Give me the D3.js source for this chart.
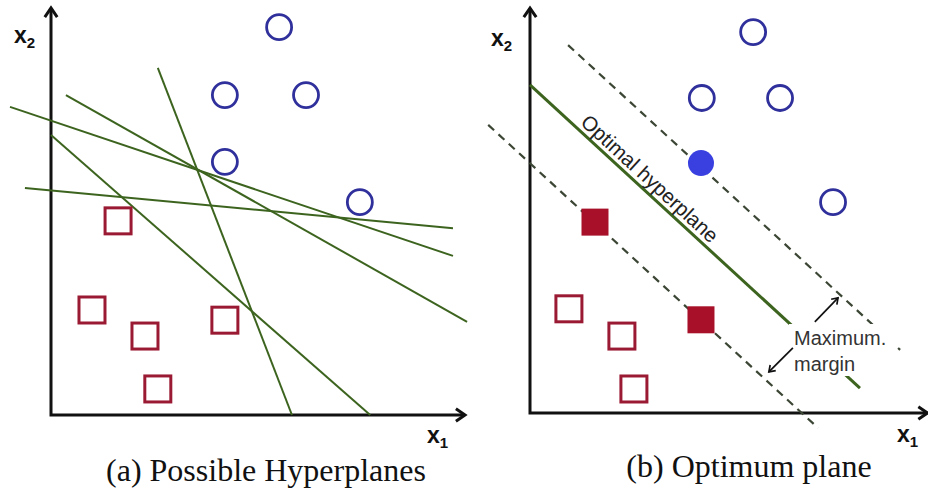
<!DOCTYPE html>
<html><head><meta charset="utf-8">
<script src="https://cdn.jsdelivr.net/npm/d3@7"></script>
<style>html,body{margin:0;padding:0;background:#fff;}svg{display:block;}</style>
</head><body>
<svg id="chart" width="928" height="494"></svg>
<script>
// ---------- data (in abstract x1/x2 units, 0..10) ----------
// Panel (a): possible hyperplanes
const aCircles = [[5.51,9.53],[4.20,7.86],[6.16,7.86],[4.20,6.22],[7.46,5.23]];
const aSquares = [[1.62,4.77],[0.99,2.58],[2.27,1.94],[4.20,2.33],[2.58,0.64]];
const aLines = [
  [[2.58,8.53],[5.82,0.00]],
  [[0.36,7.86],[10.05,2.29]],
  [[-0.99,7.57],[9.71,3.91]],
  [[0.00,6.88],[7.71,0.00]],
  [[-0.63,5.58],[9.71,4.59]]
];
// Panel (b): optimum plane
const bCircles = [[5.39,9.36],[4.15,7.74],[6.04,7.74],[7.32,5.18]];
const bCirclesSV = [[4.13,6.14]];           // support vector (filled)
const bSquares = [[0.94,2.56],[2.22,1.89],[2.51,0.59]];
const bSquaresSV = [[1.57,4.69],[4.13,2.29]]; // support vectors (filled)
const bOptimal = [[0.00,8.06],[7.97,0.61]];
const bMargins = [
  [[0.92,9.04],[8.94,1.55]],
  [[-1.01,7.08],[6.96,-0.37]]
];
const bArrows = [[[6.88,2.24],[7.44,2.83]],[[6.35,1.60],[5.77,1.01]]];
const captions = ["(a) Possible Hyperplanes", "(b) Optimum plane"];
const optLabel = "Optimal hyperplane";
const marginLabel = ["Maximum.", "margin"];

// ---------- drawing ----------
const svg = d3.select("#chart");
const xA = d3.scaleLinear().domain([0,10]).range([51,465]);
const yA = d3.scaleLinear().domain([0,10]).range([415,8]);
const xB = d3.scaleLinear().domain([0,10]).range([530,944]);
const yB = d3.scaleLinear().domain([0,10]).range([413,6]);

const GREEN = "#3d641f";
const BLUE = "#30309c";
const RED = "#9b1a33";

function chevron(g, x, y, ang, size, sw) {
  const a1 = ang + Math.PI - 0.6, a2 = ang + Math.PI + 0.6;
  g.append("path")
    .attr("d", `M${x+size*Math.cos(a1)},${y+size*Math.sin(a1)}L${x},${y}L${x+size*Math.cos(a2)},${y+size*Math.sin(a2)}`)
    .attr("fill","none").attr("stroke","#111").attr("stroke-width",sw)
    .attr("stroke-linejoin","miter");
}

function axes(g, xs, ys, xMax, yMax) {
  const ox = xs(0), oy = ys(0);
  g.append("path").attr("d", `M${ox},${ys(yMax)}L${ox},${oy}L${xs(xMax)},${oy}`)
    .attr("fill","none").attr("stroke","#111").attr("stroke-width",3);
  chevron(g, ox, ys(yMax), -Math.PI/2, 11, 3);
  chevron(g, xs(xMax), oy, 0, 11, 3);
}

function axisLabel(g, x, y, sub) {
  const t = g.append("text").attr("x",x).attr("y",y)
    .attr("font-family","Liberation Sans, Arial, sans-serif")
    .attr("font-weight","bold").attr("font-size",23).attr("fill","#111").text("x");
  t.append("tspan").attr("dy",5).attr("font-size",15).text(sub);
}

function circles(g, data, xs, ys, filled) {
  g.selectAll(null).data(data).enter().append("circle")
    .attr("cx", d=>xs(d[0])).attr("cy", d=>ys(d[1])).attr("r", filled?13:12.5)
    .attr("fill", filled ? "#3a40e0" : "none")
    .attr("stroke", filled ? "none" : BLUE).attr("stroke-width", 2.8);
}
function squares(g, data, xs, ys, filled) {
  const s = filled ? 27 : 26;
  g.selectAll(null).data(data).enter().append("rect")
    .attr("x", d=>xs(d[0])-s/2).attr("y", d=>ys(d[1])-s/2)
    .attr("width", s).attr("height", s)
    .attr("fill", filled ? "#a8102a" : "none")
    .attr("stroke", filled ? "none" : RED).attr("stroke-width", 3);
}
function lines(g, data, xs, ys, color, sw, dash) {
  g.selectAll(null).data(data).enter().append("line")
    .attr("x1", d=>xs(d[0][0])).attr("y1", d=>ys(d[0][1]))
    .attr("x2", d=>xs(d[1][0])).attr("y2", d=>ys(d[1][1]))
    .attr("stroke", color).attr("stroke-width", sw)
    .attr("stroke-dasharray", dash || null);
}

// Panel (a)
const gA = svg.append("g");
axes(gA, xA, yA, 10, 10);
lines(gA, aLines, xA, yA, GREEN, 2, null);
circles(gA, aCircles, xA, yA, false);
squares(gA, aSquares, xA, yA, false);
axisLabel(gA, 14, 43, "2");
axisLabel(gA, 427, 443, "1");

// Panel (b)
const gB = svg.append("g");
axes(gB, xB, yB, 9.6, 9.95);
lines(gB, bMargins, xB, yB, "#3c4634", 2.2, "8,6");
lines(gB, [bOptimal], xB, yB, GREEN, 3, null);
circles(gB, bCircles, xB, yB, false);
circles(gB, bCirclesSV, xB, yB, true);
squares(gB, bSquares, xB, yB, false);
squares(gB, bSquaresSV, xB, yB, true);
axisLabel(gB, 491, 46, "2");
axisLabel(gB, 897, 442, "1");

// Optimal hyperplane label, rotated along the line
{
  const x0 = xB(bOptimal[0][0]), y0 = yB(bOptimal[0][1]);
  const x1 = xB(bOptimal[1][0]), y1 = yB(bOptimal[1][1]);
  const a = Math.atan2(y1-y0, x1-x0);
  const t = 0.14;
  const px = x0 + t*(x1-x0) + 5*Math.sin(a), py = y0 + t*(y1-y0) - 5*Math.cos(a);
  gB.append("text").attr("transform", `translate(${px},${py}) rotate(${a*180/Math.PI})`)
    .attr("font-family","Liberation Sans, Arial, sans-serif").attr("font-size",20.5)
    .attr("fill","#222").text(optLabel);
}

// Maximum margin label with white backing
gB.append("rect").attr("x",789).attr("y",324).attr("width",107).attr("height",52).attr("fill","#fff");
gB.selectAll(null).data(marginLabel).enter().append("text")
  .attr("x",794).attr("y",(d,i)=> i===0 ? 345 : 371)
  .attr("font-family","Liberation Sans, Arial, sans-serif").attr("font-size",20)
  .attr("fill","#333").text(d=>d);
bArrows.forEach(ar => {
  const x0 = xB(ar[0][0]), y0 = yB(ar[0][1]), x1 = xB(ar[1][0]), y1 = yB(ar[1][1]);
  gB.append("line").attr("x1",x0).attr("y1",y0).attr("x2",x1).attr("y2",y1)
    .attr("stroke","#111").attr("stroke-width",1.7);
  chevron(gB, x1, y1, Math.atan2(y1-y0, x1-x0), 7, 1.7);
});

// Captions
svg.selectAll(".cap").data(captions).enter().append("text")
  .attr("x",(d,i)=> i===0 ? 266 : 749).attr("y",(d,i)=> i===0 ? 481 : 477)
  .attr("text-anchor","middle")
  .attr("font-family","Liberation Serif, Times New Roman, serif").attr("font-size",32)
  .attr("fill","#111").text(d=>d);
</script>
</body></html>
